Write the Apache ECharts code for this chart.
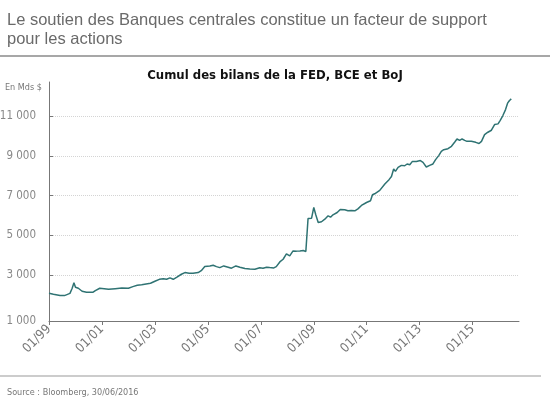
<!DOCTYPE html>
<html>
<head>
<meta charset="utf-8">
<script src="https://cdn.jsdelivr.net/npm/echarts@6/dist/echarts.min.js"></script>
<style>
html, body { margin: 0; padding: 0; background: #fff; }
#chart { width: 550px; height: 397px; }
</style>
</head>
<body>
<div id="chart"></div>
<script>
// x = months since 01/1999
const months = [
  0, 2, 5, 7, 9.5, 10.5, 11.3, 12, 13.3, 14, 15, 17, 20, 21, 23, 25, 27, 30, 33, 36,
  38, 40, 42, 44, 46, 48, 50, 51.8, 53.3, 54.8, 56.3, 57.8, 60, 61.6, 62.3, 63.5, 65.3, 67.6, 69, 70.6,
  72.9, 74.4, 75.9, 77.4, 79.2, 81.2, 82.7, 84.7, 86.5, 88.8, 91, 93.3, 95.5, 97, 98.6, 100, 101.9, 103, 104.6, 106.1,
  107.6, 109.1, 110.6, 112.2, 113.7, 115.2, 116.4, 117.4, 119, 120, 120.9, 122, 123.5, 125, 126.5, 127.6, 128.7, 130.6, 132, 134,
  135.5, 137, 138.6, 140, 141.6, 143.9, 145.7, 146.6, 147.6, 149.9, 152.2, 154.1, 155.2, 156.2, 157, 158.2, 159.7, 161.2, 162.3, 163.5,
  164.7, 166.5, 168.3, 169.5, 171, 172.5, 174, 175.2, 176.7, 177.8, 178.9, 180.8, 182.4, 183.9, 184.9, 186.1, 187.2, 188.4, 189.4, 190.3,
  191.4, 192.1, 193.4, 194.9, 196, 197.4, 198.9, 200.5, 202, 203.5, 204.5, 205.7, 206.9, 207.9, 208.7, 209.5
]
// cumulated balance sheets, bn $
const values = [
  2080, 2030, 1960, 1960, 2070, 2330, 2610, 2380, 2330, 2280, 2180, 2130, 2130, 2210, 2330, 2310, 2280, 2310, 2340, 2330,
  2410, 2480, 2510, 2545, 2580, 2680, 2780, 2810, 2780, 2850, 2780, 2880, 3035, 3120, 3150, 3085, 3085, 3120, 3215, 3420,
  3455, 3490, 3420, 3370, 3455, 3390, 3340, 3455, 3390, 3320, 3300, 3290, 3360, 3340, 3390, 3370, 3355, 3420, 3655, 3790,
  4060, 3960, 4210, 4200, 4210, 4230, 4180, 5840, 5860, 6400, 6030, 5640, 5680, 5810, 5980, 5910, 6030, 6145, 6300, 6280,
  6230, 6250, 6230, 6330, 6500, 6650, 6740, 7040, 7090, 7260, 7580, 7800, 7960, 8340, 8220, 8420, 8520, 8500, 8590, 8555,
  8720, 8720, 8760, 8670, 8440, 8520, 8590, 8810, 9025, 9230, 9310, 9360, 9480, 9700, 9850, 9780, 9850, 9780, 9730, 9650,
  9730, 9650, 9680, 9620, 9730, 10070, 10190, 10290, 10580, 10610, 10790, 11030, 11330, 11670, 11790, 11870
]
const xTickMonths = [0, 24, 48, 72, 96, 120, 144, 168, 192]
const xTickLabels = ['01/99', '01/01', '01/03', '01/05', '01/07', '01/09', '01/11', '01/13', '01/15']
const yTickValues = [3000, 5000, 7000, 9000, 11000]
const yBottom = 680
const yBottomLabel = '1 000'

const narrow = "'Liberation Sans Narrow', 'DejaVu Sans Condensed', sans-serif"
const grey = '#777'

const fmt = v => String(v).replace(/\B(?=(\d{3})+(?!\d))/g, ' ')

const chart = echarts.init(document.getElementById('chart'))
chart.setOption({
  animation: false,
  title: [
    {
      text: 'Le soutien des Banques centrales constitue un facteur de support\npour les actions',
      left: 2,
      top: 6,
      textStyle: {
        fontFamily: "'Liberation Sans', Arial, sans-serif",
        fontWeight: 'normal',
        fontSize: 16.5,
        lineHeight: 19,
        color: '#6a6a6a'
      }
    },
    {
      text: 'Cumul des bilans de la FED, BCE et BoJ',
      left: 270,
      top: 64,
      textAlign: 'center',
      textStyle: {fontFamily: narrow, fontWeight: 'bold', fontSize: 13, color: '#111'}
    },
    {
      text: 'En Mds $',
      left: 0,
      top: 78,
      textStyle: {fontFamily: narrow, fontWeight: 'normal', fontSize: 9, color: grey}
    },
    {
      text: 'Source : Bloomberg, 30/06/2016',
      left: 2,
      top: 383,
      textStyle: {fontFamily: narrow, fontWeight: 'normal', fontSize: 9, color: grey}
    }
  ],
  graphic: [
    {type: 'line', shape: {x1: 0, y1: 56, x2: 550, y2: 56}, style: {stroke: '#8a8a8a', lineWidth: 1.5}},
    {type: 'line', shape: {x1: 0, y1: 376, x2: 541, y2: 376}, style: {stroke: '#9a9a9a', lineWidth: 1.2}}
  ],
  grid: {left: 49, top: 82, right: 31, bottom: 76, outerBoundsMode: 'none', containLabel: false},
  xAxis: {
    type: 'value',
    min: 0,
    max: 213,
    axisLine: {lineStyle: {color: grey}},
    axisTick: {show: true, length: 4, customValues: xTickMonths, lineStyle: {color: grey}},
    axisLabel: {
      customValues: xTickMonths,
      rotate: 45,
      margin: 6,
      fontFamily: narrow,
      fontSize: 13,
      color: grey,
      formatter: v => xTickLabels[xTickMonths.indexOf(v)] || ''
    },
    splitLine: {show: false}
  },
  yAxis: {
    type: 'value',
    min: yBottom,
    max: 12720,
    axisLine: {show: true, lineStyle: {color: grey}},
    axisTick: {show: true, inside: true, length: 4, customValues: [yBottom, ...yTickValues], lineStyle: {color: grey}},
    axisLabel: {
      customValues: [yBottom, ...yTickValues],
      margin: 13,
      fontFamily: narrow,
      fontSize: 11.5,
      color: '#888',
      formatter: v => (v === yBottom ? yBottomLabel : fmt(v))
    },
    splitLine: {show: true, lineStyle: {color: '#d4d4d4', type: 'dotted'}}
  },
  series: [
    {
      type: 'line',
      data: months.map((m, i) => [m, values[i]]),
      symbol: 'none',
      lineStyle: {color: '#2f7373', width: 1.5}
    }
  ]
})
</script>
</body>
</html>
